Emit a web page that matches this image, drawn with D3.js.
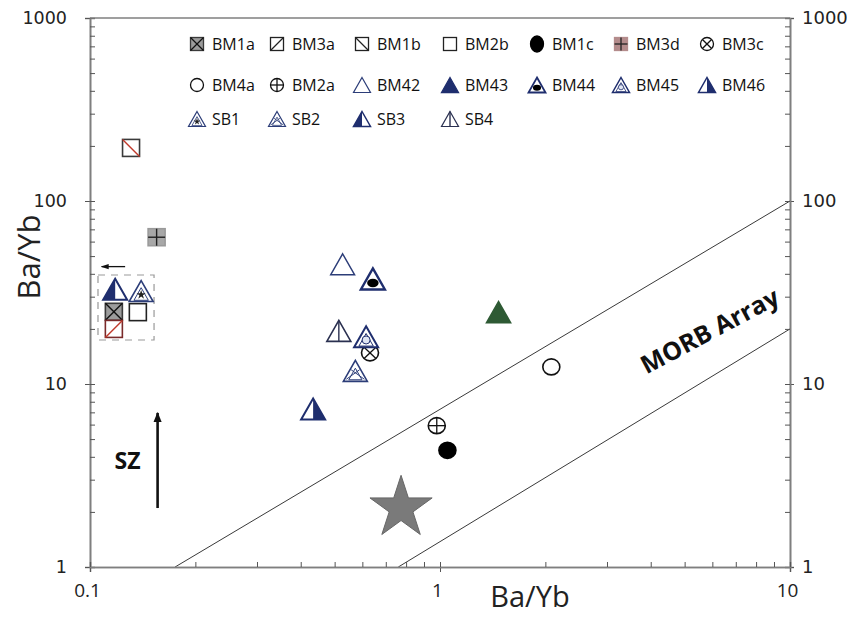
<!DOCTYPE html>
<html>
<head>
<meta charset="utf-8">
<script src="https://cdn.jsdelivr.net/npm/d3@7"></script>
<style>
  html, body { margin: 0; padding: 0; background: #fff; }
  svg { display: block; }
</style>
</head>
<body>
<svg id="chart" width="847" height="620"></svg>
<script>
// ---------------- DATA ----------------
const series  = ["BM1a","BM3a","BM1b","BM2b","BM1c","BM3d","BM3c",
                 "BM4a","BM2a","BM42","BM43","BM44","BM45","BM46",
                 "SB1","SB2","SB3","SB4"];
const xValues = [0.117, 0.117, 0.131, 0.137, 1.05, 0.155, 0.631,
                 2.08, 0.979, 0.527, 1.47, 0.643, 0.615, 0.434,
                 0.140, 0.573, 0.118, 0.514];
const yValues = [24.8, 20.0, 195, 24.7, 4.34, 63.4, 14.8,
                 12.4, 5.92, 45.1, 24.7, 37.5, 18.1, 7.3,
                 32.2, 11.8, 32.9, 19.5];
const starPoint = [0.774, 2.10];            // grey star
const upperLine = [[0.175, 1], [10, 100]];   // MORB array upper bound
const lowerLine = [[0.76, 1], [10, 20]];     // MORB array lower bound
const clusterBox = [[0.1054, 39.4], [0.1524, 17.4]];
const clusterArrow = [[0.126, 43.8], [0.108, 43.8]];
const szArrow = [[0.156, 2.1], [0.156, 6.95]];
const xMajor = [0.1, 1, 10];
const xMinor = [0.2,0.3,0.4,0.5,0.6,0.7,0.8,0.9,2,3,4,5,6,7,8,9];
const yMajor = [1, 10, 100, 1000];
const yMinor = [2,3,4,5,6,7,8,9,20,30,40,50,60,70,80,90,200,300,400,500,600,700,800,900];
const legendRows = [
  ["BM1a","BM3a","BM1b","BM2b","BM1c","BM3d","BM3c"],
  ["BM4a","BM2a","BM42","BM43","BM44","BM45","BM46"],
  ["SB1","SB2","SB3","SB4"]
];

// ---------------- STYLES ----------------
const NAVY = "#1f2e6e", NAVY2 = "#2c3d78";
const styles = {
  BM1a:{shape:"square", fill:"#9c9c9c", stroke:"#3a3a3a", deco:"x", deco_c:"#111"},
  BM3a:{shape:"square", fill:"#fff", stroke:"#7a2a2a", deco:"diagUp", deco_c:"#c0392b", lStroke:"#222", lDeco:"#222"},
  BM1b:{shape:"square", fill:"#fff", stroke:"#3a3a3a", deco:"diagDown", deco_c:"#c0392b", lStroke:"#222", lDeco:"#222"},
  BM2b:{shape:"square", fill:"#fff", stroke:"#222"},
  BM1c:{shape:"circle", fill:"#000", stroke:"#000", tall:true},
  BM3d:{shape:"square", fill:"#a8a8a8", stroke:"#9a9a9a", deco:"plus", deco_c:"#222", lFill:"#b48c8c", lStroke:"#b48c8c"},
  BM3c:{shape:"circle", fill:"#fff", stroke:"#111", deco:"x", deco_c:"#111"},
  BM4a:{shape:"circle", fill:"#fff", stroke:"#111"},
  BM2a:{shape:"circle", fill:"#fff", stroke:"#111", deco:"plus", deco_c:"#111"},
  BM42:{shape:"triangle", fill:"#fff", stroke:NAVY2, sw:1.4},
  BM43:{shape:"triangle", fill:"#2e5a34", stroke:"#2e5a34", lFill:NAVY, lStroke:NAVY},
  BM44:{shape:"triangle", fill:"#fff", stroke:NAVY, sw:2.4, deco:"ellipse"},
  BM45:{shape:"triangle", fill:"#fff", stroke:NAVY, sw:2, deco:"innerCircle"},
  BM46:{shape:"triangle", fill:"#fff", stroke:NAVY, sw:2, deco:"halfRight"},
  SB1:{shape:"triangle", fill:"#fff", stroke:NAVY2, sw:1.6, deco:"star"},
  SB2:{shape:"triangle", fill:"#fff", stroke:NAVY2, sw:1.6, deco:"innerX"},
  SB3:{shape:"triangle", fill:"#fff", stroke:NAVY, sw:2, deco:"halfLeft"},
  SB4:{shape:"triangle", fill:"#fff", stroke:"#2a3050", sw:1.6, deco:"vline"}
};

// ---------------- CHART ----------------
const svg = d3.select("#chart");
const x = d3.scaleLog().domain([0.1, 10]).range([90, 790]);
const y = d3.scaleLog().domain([1, 1000]).range([567, 18]);
const AX = "#7f7f7f";

// MORB lines
const line = d3.line().x(d => x(d[0])).y(d => y(d[1]));
svg.append("path").attr("d", line(upperLine)).attr("stroke", "#222").attr("stroke-width", 0.9).attr("fill", "none");
svg.append("path").attr("d", line(lowerLine)).attr("stroke", "#222").attr("stroke-width", 0.9).attr("fill", "none");

// Axes
function styleAxis(g) {
  g.selectAll(".domain").attr("stroke", AX).attr("stroke-width", 1.6);
  g.selectAll(".tick line").attr("stroke", "#555").attr("stroke-width", 1);
}
const fmt = d => (d < 1 ? d3.format(".1f")(d) : d3.format("d")(d));

// left axis
svg.append("g").attr("transform", "translate(90,0)")
  .call(d3.axisLeft(y).tickValues(yMajor).tickSize(5).tickPadding(18).tickFormat(fmt))
  .call(styleAxis)
  .call(g => g.selectAll("text").attr("font-family", "DejaVu Sans").attr("font-size", 17.5).attr("fill", "#222"));
svg.append("g").attr("transform", "translate(90,0)")
  .call(d3.axisRight(y).tickValues(yMajor.concat(yMinor)).tickSize(5).tickFormat(""))
  .call(styleAxis);
// right axis
svg.append("g").attr("transform", "translate(790,0)")
  .call(d3.axisRight(y).tickValues(yMajor).tickSize(4).tickPadding(8).tickFormat(fmt))
  .call(styleAxis)
  .call(g => g.selectAll("text").attr("font-family", "DejaVu Sans").attr("font-size", 18).attr("fill", "#222"));
svg.append("g").attr("transform", "translate(790,0)")
  .call(d3.axisLeft(y).tickValues(yMajor.concat(yMinor)).tickSize(5).tickFormat(""))
  .call(styleAxis);
// bottom axis
svg.append("g").attr("transform", "translate(0,567)")
  .call(d3.axisBottom(x).tickValues(xMajor).tickSize(5).tickPadding(12).tickFormat(fmt))
  .call(styleAxis)
  .call(g => g.selectAll("text").attr("font-family", "Open Sans").attr("font-size", 19).attr("fill", "#222").attr("dx", -3));
svg.append("g").attr("transform", "translate(0,567)")
  .call(d3.axisTop(x).tickValues(xMajor.concat(xMinor)).tickSize(5).tickFormat(""))
  .call(styleAxis);
// top border
svg.append("line").attr("x1", 90).attr("x2", 790).attr("y1", 18).attr("y2", 18)
  .attr("stroke", AX).attr("stroke-width", 1.6);

// Axis titles
svg.append("text").attr("x", 530).attr("y", 607).attr("text-anchor", "middle")
  .attr("font-family", "Open Sans").attr("font-size", 29).attr("fill", "#222").text("Ba/Yb");
svg.append("text").attr("transform", "translate(40,257) rotate(-90)").attr("text-anchor", "middle")
  .attr("font-family", "Open Sans").attr("font-size", 31).attr("fill", "#222").text("Ba/Yb");

// Marker drawer
function drawMarker(g, key, L) {
  const st = styles[key];
  const fill = (L && st.lFill) || st.fill;
  const stroke = (L && st.lStroke) || st.stroke;
  const dc = (L && st.lDeco) || st.deco_c || "#111";
  const sw = st.sw ? (L ? Math.max(1.2, st.sw * 0.75) : st.sw) : (L ? 1.3 : 1.6);
  if (st.shape === "square") {
    const s = L ? 13 : 17, h = s / 2;
    g.append("rect").attr("x", -h).attr("y", -h).attr("width", s).attr("height", s)
      .attr("fill", fill).attr("stroke", stroke).attr("stroke-width", sw);
    const dl = (x1, y1, x2, y2) => g.append("line").attr("x1", x1).attr("y1", y1).attr("x2", x2).attr("y2", y2)
      .attr("stroke", dc).attr("stroke-width", L ? 1.3 : 1.4);
    if (st.deco === "x") { dl(-h, -h, h, h); dl(-h, h, h, -h); }
    if (st.deco === "plus") { dl(0, -h, 0, h); dl(-h, 0, h, 0); }
    if (st.deco === "diagUp") { dl(-h, h, h, -h); }
    if (st.deco === "diagDown") { dl(-h, -h, h, h); }
  } else if (st.shape === "circle") {
    const rx = L ? 6.5 : 8.5, ry = st.tall ? 8 : (L ? 6.5 : 8);
    g.append("ellipse").attr("rx", rx).attr("ry", ry).attr("fill", fill).attr("stroke", stroke).attr("stroke-width", sw);
    const dl = (x1, y1, x2, y2) => g.append("line").attr("x1", x1).attr("y1", y1).attr("x2", x2).attr("y2", y2)
      .attr("stroke", dc).attr("stroke-width", 1.3);
    if (st.deco === "plus") { dl(0, -ry, 0, ry); dl(-rx, 0, rx, 0); }
    if (st.deco === "x") { const a = rx * 0.7, b = ry * 0.7; dl(-a, -b, a, b); dl(-a, b, a, -b); }
  } else {
    const w = L ? 17 : 24, hgt = L ? 15 : 21, hw = w / 2, hh = hgt / 2;
    const tri = [[0, -hh], [hw, hh], [-hw, hh]];
    const poly = pts => "M" + pts.map(p => p.join(",")).join("L") + "Z";
    g.append("path").attr("d", poly(tri)).attr("fill", fill);
    if (st.deco === "halfLeft") g.append("path").attr("d", poly([[0, -hh], [0, hh], [-hw, hh]])).attr("fill", NAVY);
    if (st.deco === "halfRight") g.append("path").attr("d", poly([[0, -hh], [hw, hh], [0, hh]])).attr("fill", NAVY);
    const inner = (k, dy) => tri.map(p => [p[0] * k, p[1] * k + dy]);
    const thin = L ? 0.8 : 1;
    if (st.deco === "vline") {
      g.append("line").attr("x1", 0).attr("y1", -hh).attr("x2", 0).attr("y2", hh).attr("stroke", stroke).attr("stroke-width", 1.4);
    }
    if (st.deco === "innerX") {
      const it = inner(0.55, hh * 0.3);
      g.append("path").attr("d", poly(it)).attr("fill", "none").attr("stroke", stroke).attr("stroke-width", thin);
      g.append("line").attr("x1", -hw * 0.75).attr("y1", hh * 0.8).attr("x2", hw * 0.35).attr("y2", -hh * 0.1).attr("stroke", stroke).attr("stroke-width", thin);
      g.append("line").attr("x1", hw * 0.75).attr("y1", hh * 0.8).attr("x2", -hw * 0.35).attr("y2", -hh * 0.1).attr("stroke", stroke).attr("stroke-width", thin);
    }
    if (st.deco === "star") {
      const it = inner(0.6, hh * 0.28);
      g.append("path").attr("d", poly(it)).attr("fill", "none").attr("stroke", stroke).attr("stroke-width", thin);
      g.append("path").attr("d", d3.symbol(d3.symbolStar).size(L ? 14 : 26)()).attr("transform", `translate(0,${hh * 0.35})`).attr("fill", "#222");
    }
    if (st.deco === "innerCircle") {
      const it = inner(0.6, hh * 0.28);
      g.append("path").attr("d", poly(it)).attr("fill", "none").attr("stroke", stroke).attr("stroke-width", thin);
      g.append("circle").attr("cy", hh * 0.3).attr("r", L ? 2.6 : 4).attr("fill", "#dfe5f3").attr("stroke", stroke).attr("stroke-width", thin);
    }
    if (st.deco === "ellipse") {
      g.append("ellipse").attr("cy", hh * 0.38).attr("rx", w * 0.24).attr("ry", hgt * 0.2).attr("fill", "#000");
    }
    g.append("path").attr("d", poly(tri)).attr("fill", "none").attr("stroke", stroke).attr("stroke-width", sw).attr("stroke-linejoin", "miter");
  }
}

// Star (reference point)
svg.append("path").attr("d", d3.symbol(d3.symbolStar).size(1200)())
  .attr("transform", `translate(${x(starPoint[0])},${y(starPoint[1])})`)
  .attr("fill", "#7a7a7a").attr("stroke", "#666").attr("stroke-width", 1);

// Cluster box and arrow
const defs = svg.append("defs");
defs.append("marker").attr("id", "ah").attr("viewBox", "0 0 10 10").attr("refX", 9).attr("refY", 5)
  .attr("markerWidth", 6).attr("markerHeight", 6).attr("orient", "auto-start-reverse")
  .append("path").attr("d", "M0,1.5L10,5L0,8.5Z").attr("fill", "#111");
defs.append("marker").attr("id", "ah2").attr("viewBox", "0 0 10 10").attr("refX", 9).attr("refY", 5)
  .attr("markerWidth", 4).attr("markerHeight", 4).attr("orient", "auto-start-reverse")
  .append("path").attr("d", "M0,1L10,5L0,9Z").attr("fill", "#111");

svg.append("rect")
  .attr("x", x(clusterBox[0][0])).attr("y", y(clusterBox[0][1]))
  .attr("width", x(clusterBox[1][0]) - x(clusterBox[0][0]))
  .attr("height", y(clusterBox[1][1]) - y(clusterBox[0][1]))
  .attr("fill", "none").attr("stroke", "#999").attr("stroke-width", 1.2).attr("stroke-dasharray", "7,6");
svg.append("path").attr("d", line(clusterArrow)).attr("stroke", "#111").attr("stroke-width", 1.3)
  .attr("fill", "none").attr("marker-end", "url(#ah)");

// SZ arrow and label
svg.append("path").attr("d", line(szArrow)).attr("stroke", "#111").attr("stroke-width", 2.6)
  .attr("fill", "none").attr("marker-end", "url(#ah2)");
svg.append("text").attr("x", x(0.128)).attr("y", y(3.8)).attr("dy", "0.35em").attr("text-anchor", "middle")
  .attr("font-family", "Open Sans").attr("font-weight", "bold").attr("font-size", 23).attr("fill", "#111").text("SZ");

// MORB Array label
svg.append("text").attr("transform", `translate(${x(5.9)},${y(19.5)}) rotate(-28)`)
  .attr("text-anchor", "middle").attr("dy", "0.35em")
  .attr("font-family", "Open Sans").attr("font-weight", "bold").attr("font-size", 25).attr("fill", "#111").text("MORB Array");

// Data points
series.forEach((k, i) => {
  const g = svg.append("g").attr("transform", `translate(${x(xValues[i])},${y(yValues[i])})`);
  drawMarker(g, k, false);
});

// Legend
const legCols = [197, 277, 362, 450, 537, 621, 707];
const legRowsY = [44, 85, 119];
legendRows.forEach((row, r) => {
  row.forEach((k, c) => {
    const g = svg.append("g").attr("transform", `translate(${legCols[c]},${legRowsY[r]})`);
    drawMarker(g, k, true);
    svg.append("text").attr("x", legCols[c] + 15).attr("y", legRowsY[r]).attr("dy", "0.35em")
      .attr("font-family", "Open Sans").attr("font-size", 16).attr("fill", "#111").text(k);
  });
});
</script>
</body>
</html>
